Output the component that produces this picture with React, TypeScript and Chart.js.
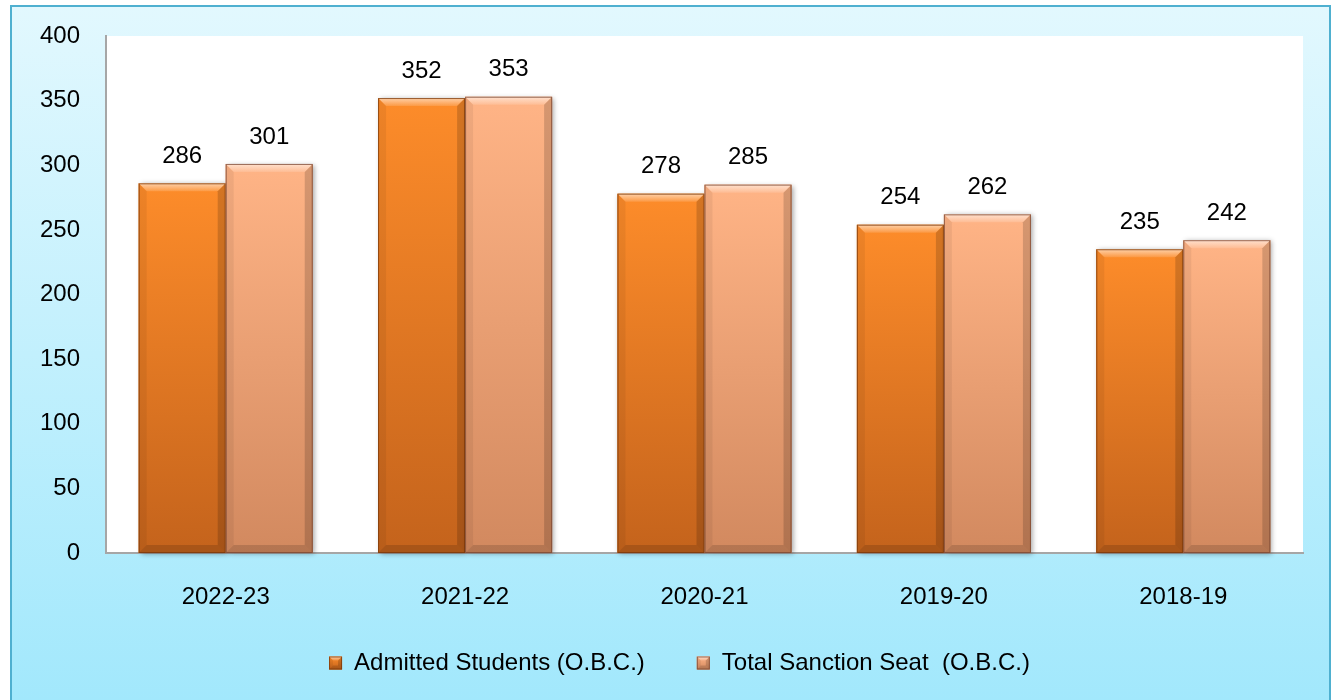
import React, { useEffect, useRef } from "react";
import { Chart, registerables } from "chart.js";

Chart.register(...registerables);

const categories = ["2022-23", "2021-22", "2020-21", "2019-20", "2018-19"];
const admittedValues = [286, 352, 278, 254, 235];
const sanctionValues = [301, 353, 285, 262, 242];
const seriesNames = ["Admitted Students (O.B.C.)", "Total Sanction Seat  (O.B.C.)"];
const yMax = 400;
const yStep = 50;

const FONT = "'Liberation Sans', Arial, sans-serif";
const FONT_SIZE = 24;

const palettes = [
  { solid: "#f0801f", top: "#fd8c2a", bottom: "#c4631c", edge: "rgba(120,55,10,0.75)" },
  { solid: "#f5a77c", top: "#ffb486", bottom: "#d2895f", edge: "rgba(120,70,50,0.75)" },
];

function drawBevelRect(ctx: CanvasRenderingContext2D, l: number, t: number, r: number, b: number, p: any, bv: number, shadow: boolean) {
  const g = ctx.createLinearGradient(0, t, 0, b);
  g.addColorStop(0, p.top);
  g.addColorStop(1, p.bottom);
  ctx.save();
  if (shadow) {
    ctx.shadowColor = "rgba(0,0,0,0.35)";
    ctx.shadowBlur = 5;
    ctx.shadowOffsetX = 2;
    ctx.shadowOffsetY = 1;
  }
  ctx.fillStyle = g;
  ctx.fillRect(l, t, r - l, b - t);
  ctx.restore();

  ctx.save();
  const tg = ctx.createLinearGradient(0, t, 0, t + bv);
  tg.addColorStop(0, "rgba(255,255,255,0.6)");
  tg.addColorStop(1, "rgba(255,255,255,0.12)");
  ctx.fillStyle = tg;
  ctx.beginPath();
  ctx.moveTo(l, t);
  ctx.lineTo(r, t);
  ctx.lineTo(r - bv, t + bv);
  ctx.lineTo(l + bv, t + bv);
  ctx.closePath();
  ctx.fill();
  ctx.fillStyle = "rgba(0,0,0,0.06)";
  ctx.beginPath();
  ctx.moveTo(l, t);
  ctx.lineTo(l + bv, t + bv);
  ctx.lineTo(l + bv, b - bv);
  ctx.lineTo(l, b);
  ctx.closePath();
  ctx.fill();
  ctx.fillStyle = "rgba(0,0,0,0.16)";
  ctx.beginPath();
  ctx.moveTo(r, t);
  ctx.lineTo(r - bv, t + bv);
  ctx.lineTo(r - bv, b - bv);
  ctx.lineTo(r, b);
  ctx.closePath();
  ctx.fill();
  ctx.fillStyle = "rgba(0,0,0,0.14)";
  ctx.beginPath();
  ctx.moveTo(l, b);
  ctx.lineTo(l + bv, b - bv);
  ctx.lineTo(r - bv, b - bv);
  ctx.lineTo(r, b);
  ctx.closePath();
  ctx.fill();
  ctx.strokeStyle = p.edge;
  ctx.lineWidth = 1;
  ctx.strokeRect(l + 0.5, t + 0.5, r - l - 1, b - t - 1);
  ctx.restore();
}

const decorPlugin = {
  id: "decor",
  afterLayout(chart: any) {
    const lg = chart.legend;
    if (lg) {
      lg.left += 28;
      lg.right += 28;
      lg.top -= 15;
      lg.bottom -= 15;
    }
  },
  beforeDraw(chart: any) {
    const { ctx, chartArea: a } = chart;
    ctx.save();
    ctx.fillStyle = "#ffffff";
    ctx.fillRect(a.left, a.top, a.right - a.left, a.bottom - a.top);
    ctx.restore();
  },
  afterDatasetsDraw(chart: any) {
    const ctx: CanvasRenderingContext2D = chart.ctx;
    chart.data.datasets.forEach((ds: any, di: number) => {
      const meta = chart.getDatasetMeta(di);
      const p = palettes[di];
      meta.data.forEach((el: any) => {
        const { x, y, base, width } = el.getProps(["x", "y", "base", "width"], true);
        drawBevelRect(ctx, x - width / 2, y, x + width / 2, base, p, 8, true);
      });
    });
    chart.data.datasets.forEach((ds: any, di: number) => {
      const meta = chart.getDatasetMeta(di);
      meta.data.forEach((el: any, i: number) => {
        const { x, y } = el.getProps(["x", "y"], true);
        ctx.save();
        ctx.fillStyle = "#000000";
        ctx.font = `${FONT_SIZE}px ${FONT}`;
        ctx.textAlign = "center";
        ctx.textBaseline = "middle";
        ctx.fillText(String(ds.data[i]), x, y - 27);
        ctx.restore();
      });
    });
  },
  afterDraw(chart: any) {
    const legend = chart.legend;
    if (!legend || !legend.legendHitBoxes) return;
    const ctx: CanvasRenderingContext2D = chart.ctx;
    legend.legendHitBoxes.forEach((hb: any, i: number) => {
      const bw = 13;
      const top = hb.top + Math.max((FONT_SIZE - bw) / 2, 0);
      drawBevelRect(ctx, hb.left, top, hb.left + bw, top + bw, palettes[i], 4, false);
    });
  },
};

export default function App() {
  const canvasRef = useRef<HTMLCanvasElement | null>(null);

  useEffect(() => {
    if (!canvasRef.current) return;
    const chart = new Chart(canvasRef.current, {
      type: "bar",
      data: {
        labels: categories,
        datasets: [
          {
            label: seriesNames[0],
            data: admittedValues,
            backgroundColor: palettes[0].solid,
            borderColor: "#9a4a12",
            borderWidth: 0,
            categoryPercentage: 0.727,
            barPercentage: 1,
          },
          {
            label: seriesNames[1],
            data: sanctionValues,
            backgroundColor: palettes[1].solid,
            borderColor: "#9a5f45",
            borderWidth: 0,
            categoryPercentage: 0.727,
            barPercentage: 1,
          },
        ],
      },
      options: {
        responsive: false,
        animation: false,
        layout: { padding: { left: 0, right: 35, top: 36, bottom: 0 } },
        plugins: {
          tooltip: { enabled: false },
          legend: {
            position: "bottom",
            labels: {
              color: "#000000",
              font: { family: FONT, size: FONT_SIZE },
              boxWidth: 13,
              boxHeight: 13,
              padding: 52,
            },
          },
        },
        scales: {
          x: {
            grid: { display: false, drawTicks: false, tickLength: 0 },
            border: { display: true, color: "#a6a6a6", width: 2 },
            ticks: {
              color: "#000000",
              font: { family: FONT, size: FONT_SIZE },
              padding: 30,
              maxRotation: 0,
            },
            afterFit(scale: any) {
              scale.height = 61;
            },
          },
          y: {
            min: 0,
            max: yMax,
            grid: { display: false, drawTicks: false, tickLength: 0 },
            border: { display: true, color: "#a6a6a6", width: 2 },
            ticks: {
              stepSize: yStep,
              color: "#000000",
              font: { family: FONT, size: FONT_SIZE },
              padding: 26,
            },
            afterFit(scale: any) {
              scale.width = 106;
              scale.paddingTop = 0;
              scale.paddingBottom = 0;
            },
          },
        },
      },
      plugins: [decorPlugin],
    });
    return () => chart.destroy();
  }, []);

  return (
    <div
      style={{
        position: "fixed",
        left: 0,
        top: 0,
        width: 1338,
        height: 700,
        overflow: "hidden",
        background: "#ffffff",
      }}
    >
      <div
        style={{
          position: "absolute",
          left: 10,
          top: 5,
          width: 1317,
          height: 730,
          border: "2px solid #4fb0d0",
          background: "linear-gradient(to bottom, #e2f8fe 0%, #a2e8fc 95%)",
        }}
      />
      <canvas
        ref={canvasRef}
        width={1338}
        height={700}
        style={{ position: "absolute", left: 0, top: 0, width: 1338, height: 700 }}
      />
    </div>
  );
}
